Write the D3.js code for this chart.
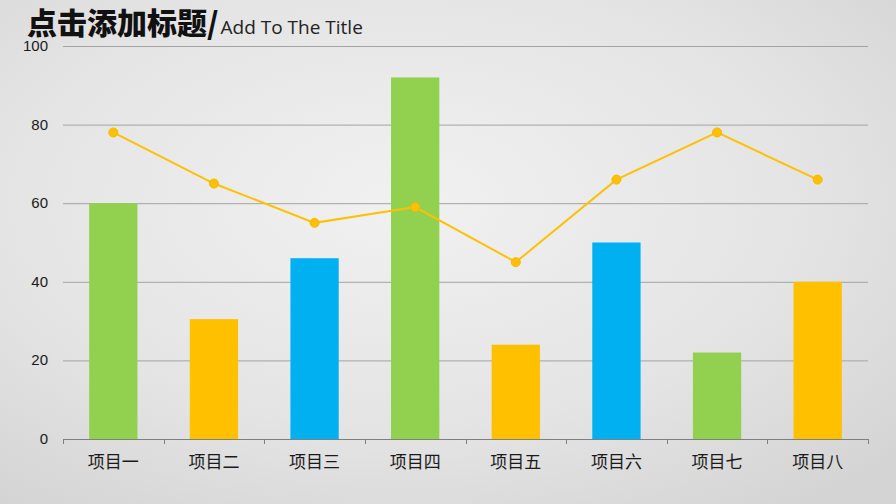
<!DOCTYPE html>
<html><head><meta charset="utf-8">
<script src="https://cdn.jsdelivr.net/npm/d3@7"></script>
<style>html,body{margin:0;padding:0;overflow:hidden;}svg{display:block;}</style>
</head><body>
<svg id="c" width="896" height="504"></svg>
<script>
const categories = ["项目一","项目二","项目三","项目四","项目五","项目六","项目七","项目八"];
const barValues = [60, 30.5, 46, 92, 24, 50, 22, 40];
const barColors = ["#92D050","#FFC000","#00B0F0","#92D050","#FFC000","#00B0F0","#92D050","#FFC000"];
const lineValues = [78, 65, 55, 59, 45, 66, 78, 66];
const yTicks = [0, 20, 40, 60, 80, 100];

(function(){
const svg = d3.select("#c");
const defs = svg.append("defs");
const rg = defs.append("radialGradient").attr("id","bg").attr("cx","45%").attr("cy","40%").attr("r","75%");
rg.append("stop").attr("offset","0%").attr("stop-color","#f1f1f1");
rg.append("stop").attr("offset","60%").attr("stop-color","#e4e4e4");
rg.append("stop").attr("offset","100%").attr("stop-color","#d4d4d4");
svg.append("rect").attr("width",896).attr("height",504).attr("fill","url(#bg)");

const mLeft = 63, mRight = 868, mTop = 46, mBottom = 439;
const x = d3.scaleBand().domain(categories).range([mLeft, mRight]).paddingInner(0.52).paddingOuter(0.26);
const xb = d3.scaleBand().domain(categories).range([mLeft, mRight]);
const y = d3.scaleLinear().domain([0,100]).range([mBottom, mTop]);

svg.append("g").selectAll("line").data(yTicks.filter(d=>d>0)).join("line")
  .attr("x1", mLeft).attr("x2", mRight)
  .attr("y1", d=>y(d)+0.5).attr("y2", d=>y(d)+0.5)
  .attr("stroke","#a3a3a3").attr("stroke-width",1);

svg.append("g").selectAll("text").data(yTicks).join("text")
  .attr("x", 48).attr("y", d=>y(d)+5)
  .attr("text-anchor","end")
  .attr("font-family","Liberation Sans, Arial, sans-serif")
  .attr("font-size",15).attr("fill","#1a1a1a")
  .text(d=>d);

svg.append("g").selectAll("rect").data(barValues).join("rect")
  .attr("x",(d,i)=>x(categories[i]))
  .attr("width", x.bandwidth())
  .attr("y", d=>y(d))
  .attr("height", d=>y(0)-y(d))
  .attr("fill",(d,i)=>barColors[i]);

const ax = svg.append("g").attr("transform",`translate(0,${mBottom})`);
ax.append("line").attr("x1",mLeft).attr("x2",mRight).attr("y1",0.5).attr("y2",0.5).attr("stroke","#7f7f7f");
const bounds = [mLeft].concat(categories.map(c=>xb(c)+xb.bandwidth()));
ax.selectAll("line.t").data(bounds).join("line").attr("class","t")
  .attr("x1",d=>Math.round(d)+0.5).attr("x2",d=>Math.round(d)+0.5).attr("y1",0).attr("y2",5)
  .attr("stroke","#7f7f7f");
ax.selectAll("text").data(categories).join("text")
  .attr("x", d=>xb(d)+xb.bandwidth()/2).attr("y", 29)
  .attr("text-anchor","middle")
  .attr("font-family","Noto Sans CJK SC, sans-serif")
  .attr("font-size",17).attr("fill","#1a1a1a")
  .text(d=>d);

const cx = (d,i)=>xb(categories[i])+xb.bandwidth()/2;
const line = d3.line().x(cx).y(d=>y(d));
svg.append("path").datum(lineValues).attr("d",line)
  .attr("fill","none").attr("stroke","#FFC000").attr("stroke-width",2);
svg.append("g").selectAll("circle").data(lineValues).join("circle")
  .attr("cx",cx).attr("cy",d=>y(d)).attr("r",4.5)
  .attr("fill","#FFC000").attr("stroke","#F5B800").attr("stroke-width",1);

const t = svg.append("text").attr("x",27).attr("y",34);
t.append("tspan").attr("font-family","Noto Sans CJK SC, sans-serif").attr("font-weight","900")
  .attr("font-size",30).attr("fill","#111").text("点击添加标题/");
t.append("tspan").attr("font-family","Open Sans, sans-serif").attr("font-size",19)
  .attr("fill","#222").attr("dx",2).text("Add To The Title");
})();
</script>
</body></html>
